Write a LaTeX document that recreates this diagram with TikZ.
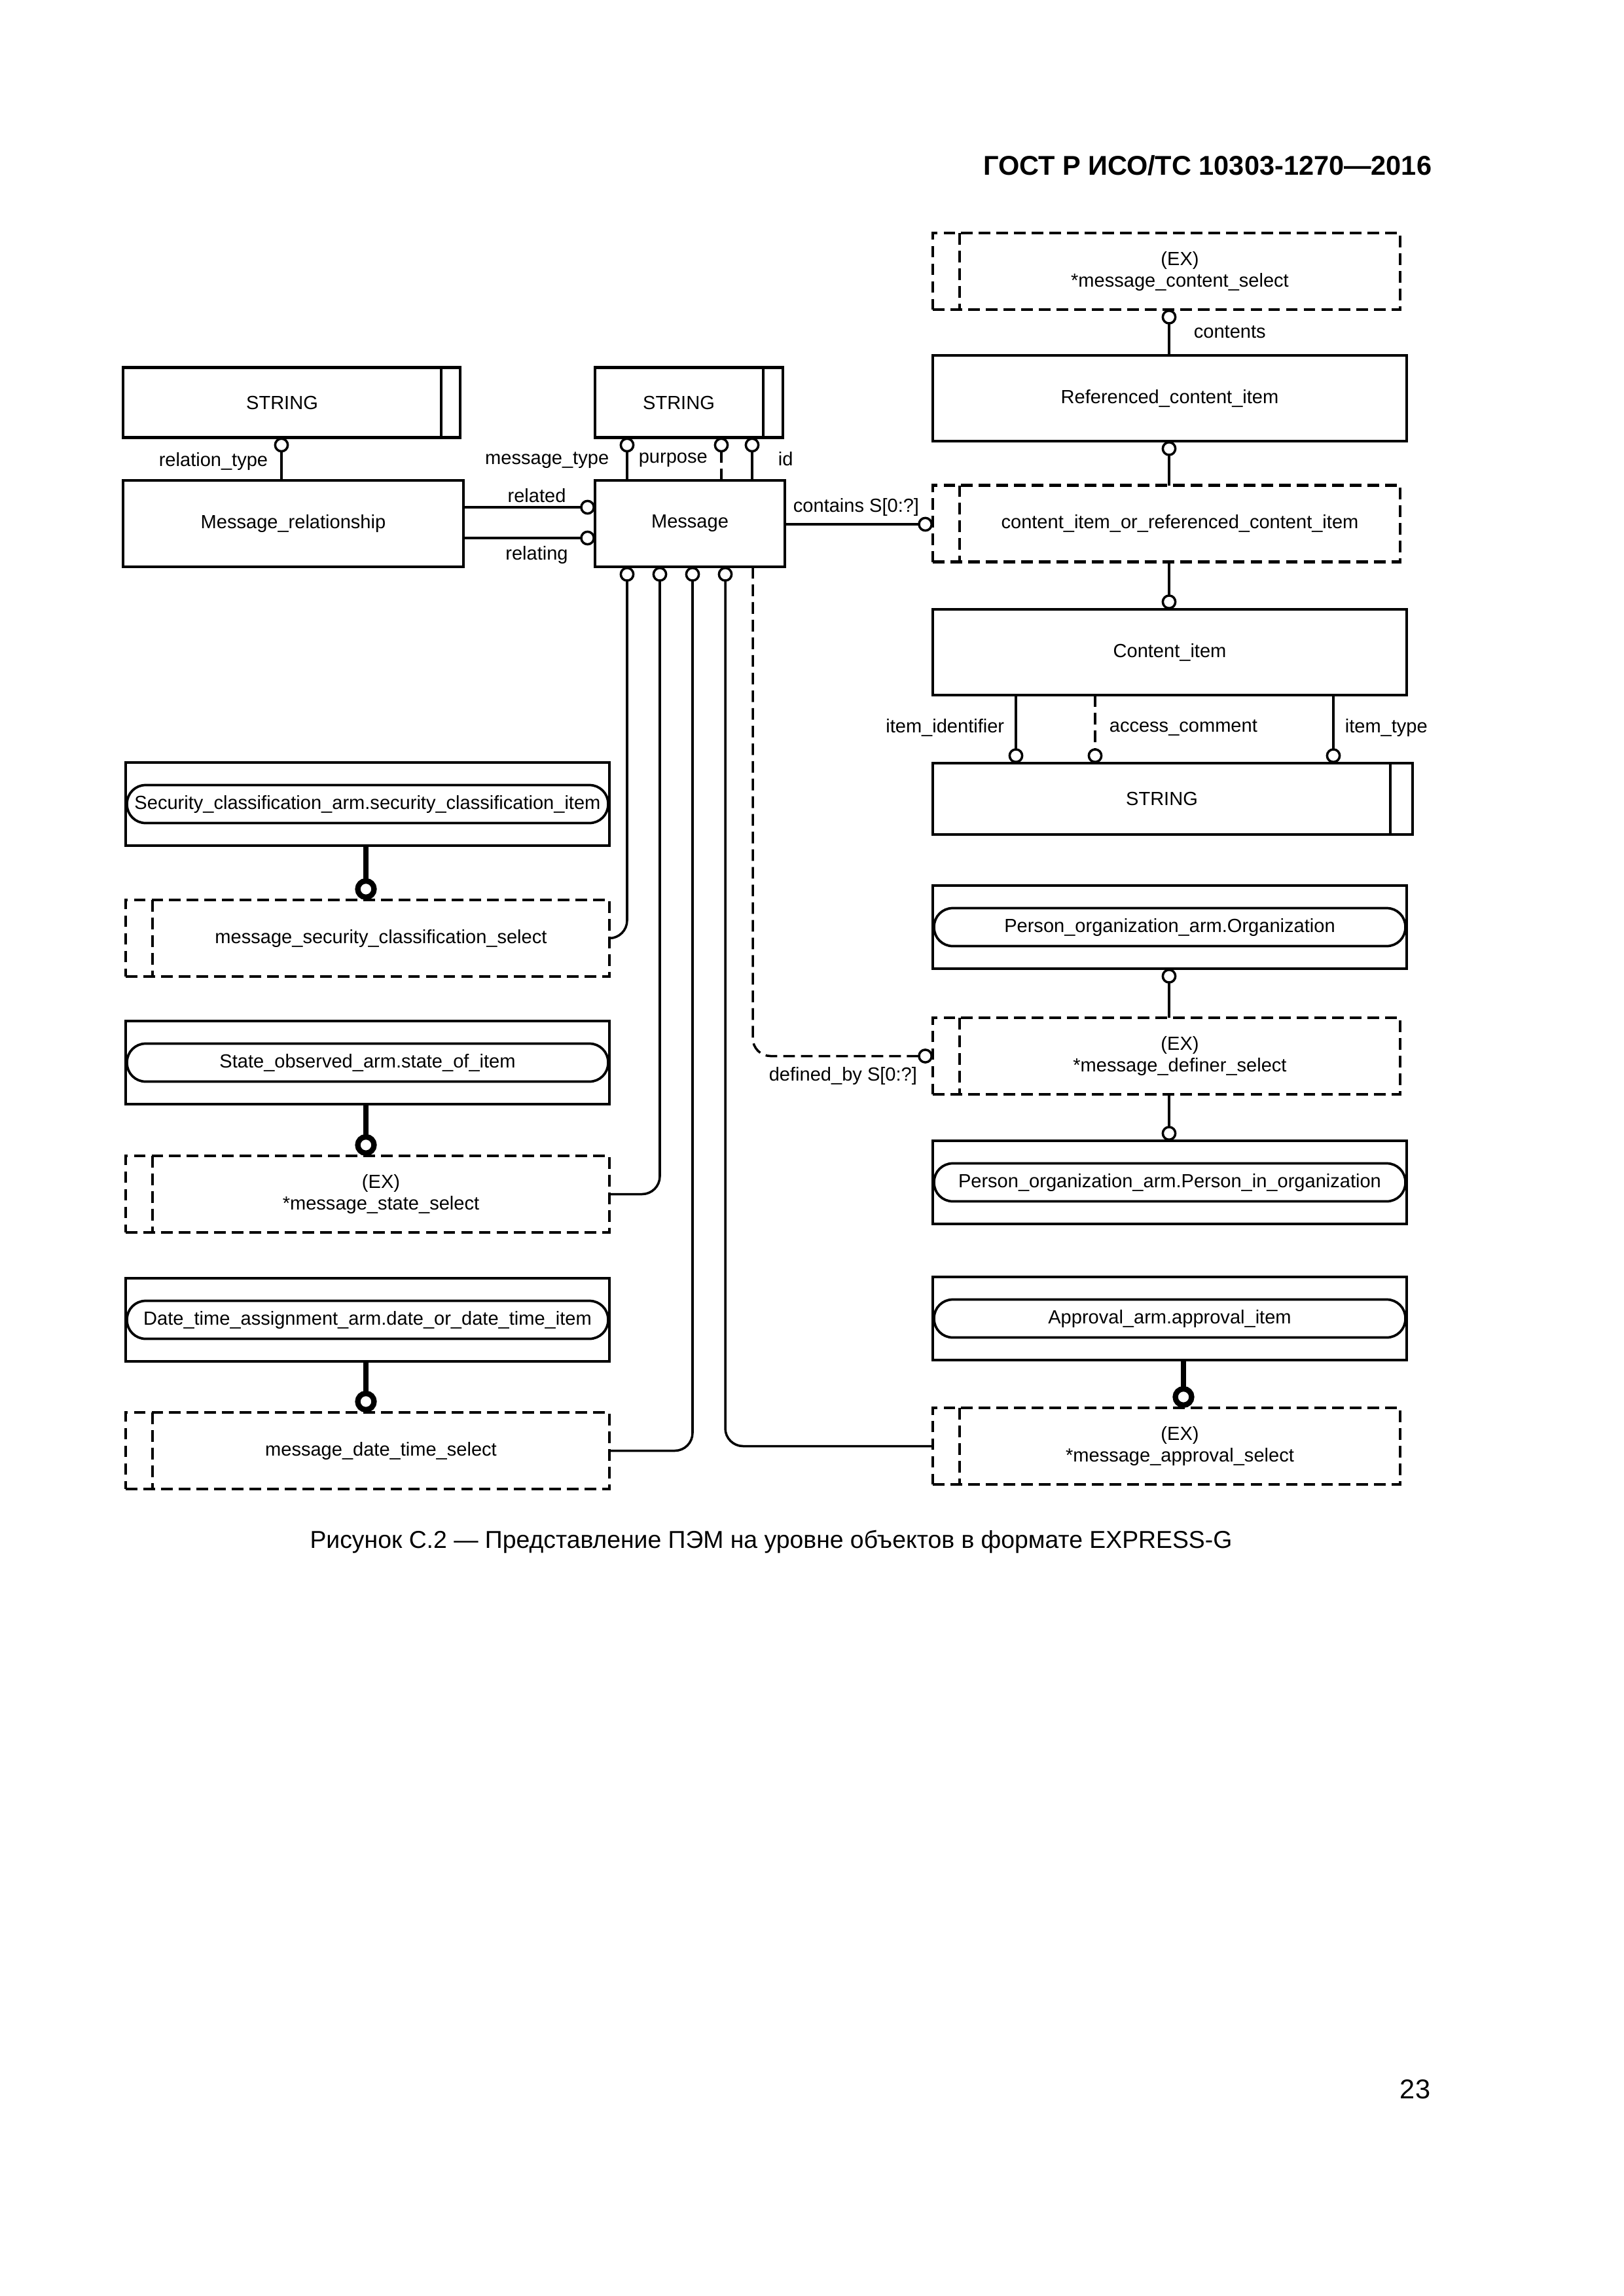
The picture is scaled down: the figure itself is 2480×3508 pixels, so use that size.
\documentclass[tikz,border=0pt]{standalone}
\usepackage{fontspec}
\setmainfont{Liberation Sans}
\usetikzlibrary{arrows.meta,calc}
\newcommand\pxu{0.08468mm}
\newcommand\dfont{\fontsize{7}{7.9}\selectfont}
\begin{document}
\begin{tikzpicture}[x=0.08468mm,y=-0.08468mm,
  box/.style n args={2}{draw, line width=1.0pt, inner sep=0pt, outer sep=0pt,
    minimum width={#1*\pxu}, minimum height={#2*\pxu}, font=\dfont},
  selbox/.style n args={2}{box={#1}{#2}, dash pattern=on 4.3pt off 2.2pt},
  pill/.style={draw, line width=0.9pt, rounded corners=2.4mm, inner sep=0pt, outer sep=0pt,
    minimum width={735*\pxu}, minimum height={58*\pxu}, font=\dfont},
  txt/.style={font=\dfont, inner sep=0pt, align=center},
  lbl/.style={font=\dfont, inner sep=0pt},
  rel/.style={line width=0.85pt, -{Circle[open,length=5.5pt,width=5.5pt]}},
  orel/.style={rel, dash pattern=on 4.3pt off 2.2pt},
  trel/.style={line width=2pt, -{Circle[open,length=8pt,width=8pt]}},
  dline/.style={line width=1.0pt, dash pattern=on 4.3pt off 2.2pt},
  sline/.style={line width=1.0pt}
]
\useasboundingbox (0,0) rectangle (2480,3508);

% header, caption, page number
\node[font=\bfseries\fontsize{10}{12}\selectfont, anchor=east, inner sep=0pt] (hdr) at (2188,253) {ГОСТ Р ИСО/ТС 10303-1270—2016};
\node[font=\fontsize{9}{11}\selectfont, inner sep=0pt] (cap) at (1178,2356) {Рисунок С.2 — Представление ПЭМ на уровне объектов в формате EXPRESS-G};
\node[font=\fontsize{10}{12}\selectfont, inner sep=0pt] (pg) at (2162,3192) {23};

% column / row helper coordinates
\coordinate (xRT) at (430,0);
\coordinate (xMT) at (958,0);
\coordinate (xPU) at (1102,0);
\coordinate (xID) at (1149,0);
\coordinate (xB1) at (958,0);
\coordinate (xB2) at (1008,0);
\coordinate (xB3) at (1058,0);
\coordinate (xB4) at (1108,0);
\coordinate (xB5) at (1150,0);
\coordinate (xR) at (1786,0);
\coordinate (xII) at (1552,0);
\coordinate (xAC) at (1673,0);
\coordinate (xIT) at (2037,0);
\coordinate (xA) at (1808,0);
\coordinate (xL) at (559,0);
\coordinate (yRel) at (0,775);
\coordinate (yRelg) at (0,822);
\coordinate (yC) at (0,801);

% ---------- top left ----------
\node[box={515}{107}] (STRa) at (445.5,615) {};
\draw[sline] ($(STRa.north east)+(-29,0)$) -- ($(STRa.south east)+(-29,0)$);
\node[txt] (STRaT) at (431,615) {STRING};

\node[box={520}{132}] (MR) at (448,800) {Message\_relationship};

\node[box={287}{107}] (STRb) at (1052.5,615) {};
\draw[sline] ($(STRb.north east)+(-30,0)$) -- ($(STRb.south east)+(-30,0)$);
\node[txt] (STRbT) at (1037,615) {STRING};

\node[box={290}{132}] (Msg) at (1054,800) {Message};

\draw[rel] (MR.north -| xRT) -- (STRa.south -| xRT);
\node[lbl, anchor=east] (lRT) at (410,705) {relation\_type};

\draw[rel] (Msg.north -| xMT) -- (STRb.south -| xMT);
\draw[orel] (Msg.north -| xPU) -- (STRb.south -| xPU);
\draw[rel] (Msg.north -| xID) -- (STRb.south -| xID);
\node[lbl, anchor=east] (lMT) at (931,703) {message\_type};
\node[lbl, anchor=west] (lPU) at (975,703) {purpose};
\node[lbl, anchor=west] (lID) at (1188,701) {id};

\draw[rel] (MR.east |- yRel) -- (Msg.west |- yRel);
\draw[rel] (MR.east |- yRelg) -- (Msg.west |- yRelg);
\node[lbl] (lRel) at (820,757) {related};
\node[lbl] (lRelg) at (820,848) {relating};

% ---------- right column ----------
\node[selbox={714}{117}] (CS) at (1782,414.5) {};
\draw[dline] ($(CS.north west)+(41,0)$) -- ($(CS.south west)+(41,0)$);
\node[txt] (CST) at (1802.5,414.5) {(EX)\\*message\_content\_select};

\node[box={724}{131}] (RCI) at (1787,608.5) {Referenced\_content\_item};

\node[selbox={714}{117}] (CIRS) at (1782,800) {};
\draw[dline] ($(CIRS.north west)+(41,0)$) -- ($(CIRS.south west)+(41,0)$);
\node[txt] (CIRST) at (1802.5,800) {content\_item\_or\_referenced\_content\_item};

\node[box={724}{131}] (CI) at (1787,996.5) {Content\_item};

\node[box={733}{109}] (STRc) at (1791.5,1220.5) {};
\draw[sline] ($(STRc.north east)+(-34,0)$) -- ($(STRc.south east)+(-34,0)$);
\node[txt] (STRcT) at (1775,1220.5) {STRING};

\draw[rel] (RCI.north -| xR) -- (CS.south -| xR);
\node[lbl, anchor=west] (lCo) at (1823,507) {contents};
\draw[rel] (CIRS.north -| xR) -- (RCI.south -| xR);
\draw[rel] (CIRS.south -| xR) -- (CI.north -| xR);

\draw[rel] (Msg.east |- yC) -- (CIRS.west |- yC);
\node[lbl] (lCont) at (1308,775) {contains S[0:?]};

\draw[rel] (CI.south -| xII) -- (STRc.north -| xII);
\draw[orel] (CI.south -| xAC) -- (STRc.north -| xAC);
\draw[rel] (CI.south -| xIT) -- (STRc.north -| xIT);
\node[lbl, anchor=east] (lII) at (1535,1112) {item\_identifier};
\node[lbl, anchor=west] (lAC) at (1694,1112) {access\_comment};
\node[lbl, anchor=west] (lIT) at (2054,1112) {item\_type};

\node[box={724}{127}] (PO) at (1787,1416.5) {};
\node[pill, minimum width={720*\pxu}] (POP) at (1787,1416.5) {Person\_organization\_arm.Organization};

\node[selbox={714}{117}] (DEF) at (1782,1613.5) {};
\draw[dline] ($(DEF.north west)+(41,0)$) -- ($(DEF.south west)+(41,0)$);
\node[txt] (DEFT) at (1802.5,1613.5) {(EX)\\*message\_definer\_select};

\node[box={724}{127}] (PIO) at (1787,1806.5) {};
\node[pill, minimum width={720*\pxu}] (PIOP) at (1787,1806.5) {Person\_organization\_arm.Person\_in\_organization};

\draw[rel] (DEF.north -| xR) -- (PO.south -| xR);
\draw[rel] (DEF.south -| xR) -- (PIO.north -| xR);

\node[box={724}{127}] (APR) at (1787,2014.5) {};
\node[pill, minimum width={720*\pxu}] (APRP) at (1787,2014.5) {Approval\_arm.approval\_item};

\node[selbox={714}{117}] (APRS) at (1782,2209.5) {};
\draw[dline] ($(APRS.north west)+(41,0)$) -- ($(APRS.south west)+(41,0)$);
\node[txt] (APRST) at (1802.5,2209.5) {(EX)\\*message\_approval\_select};

\draw[trel] (APR.south -| xA) -- (APRS.north -| xA);

% ---------- left column ----------
\node[box={739}{127}] (SEC) at (561.5,1228.5) {};
\node[pill] (SECP) at (561.5,1228.5) {Security\_classification\_arm.security\_classification\_item};
\node[selbox={739}{117}] (SECS) at (561.5,1433.5) {};
\draw[dline] ($(SECS.north west)+(41,0)$) -- ($(SECS.south west)+(41,0)$);
\node[txt] (SECST) at (582,1433.5) {message\_security\_classification\_select};
\draw[trel] (SEC.south -| xL) -- (SECS.north -| xL);

\node[box={739}{127}] (ST) at (561.5,1623.5) {};
\node[pill] (STP) at (561.5,1623.5) {State\_observed\_arm.state\_of\_item};
\node[selbox={739}{117}] (STS) at (561.5,1824.5) {};
\draw[dline] ($(STS.north west)+(41,0)$) -- ($(STS.south west)+(41,0)$);
\node[txt] (STST) at (582,1824.5) {(EX)\\*message\_state\_select};
\draw[trel] (ST.south -| xL) -- (STS.north -| xL);

\node[box={739}{127}] (DT) at (561.5,2016.5) {};
\node[pill] (DTP) at (561.5,2016.5) {Date\_time\_assignment\_arm.date\_or\_date\_time\_item};
\node[selbox={739}{117}] (DTS) at (561.5,2216.5) {};
\draw[dline] ($(DTS.north west)+(41,0)$) -- ($(DTS.south west)+(41,0)$);
\node[txt] (DTST) at (582,2216.5) {message\_date\_time\_select};
\draw[trel] (DT.south -| xL) -- (DTS.north -| xL);

% ---------- Message bottom connectors ----------
\draw[rel, rounded corners=2.3mm] (SECS.east) -| (Msg.south -| xB1);
\draw[rel, rounded corners=2.3mm] (STS.east) -| (Msg.south -| xB2);
\draw[rel, rounded corners=2.3mm] (DTS.east) -| (Msg.south -| xB3);
\draw[rel, rounded corners=2.3mm] (APRS.west) -| (Msg.south -| xB4);
\draw[orel, rounded corners=2.3mm] (Msg.south -| xB5) |- (DEF.west);
\node[lbl, anchor=west] (lDef) at (1174,1644) {defined\_by S[0:?]};

\end{tikzpicture}
\end{document}
